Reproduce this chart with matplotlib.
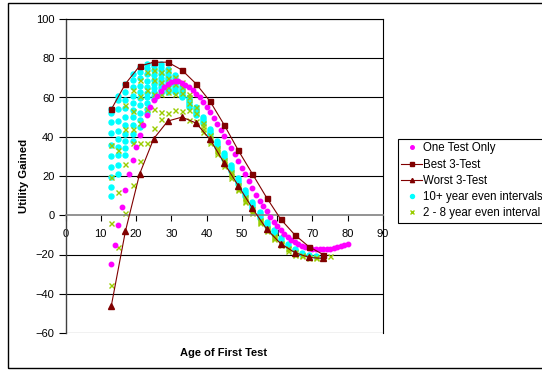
import matplotlib
matplotlib.use("Agg")
import matplotlib.pyplot as plt
from matplotlib.patches import Rectangle

plt.rcParams['font.family'] = ['Liberation Sans', 'DejaVu Sans']

# ---------------- data ----------------
one_x = list(range(13, 81))
one_y = [-25, -15, -5, 4, 13, 21, 28, 35, 41, 46, 51, 55, 58.5, 61, 63.5, 65.5,
         67, 68, 68.3, 68.2, 67.6, 66.6, 65.3, 63.7, 62, 60, 57.7, 55, 52.5, 49.5,
         46.5, 43.5, 40.5, 37.5, 34.3, 31, 27.7, 24.3, 20.8, 17.4, 14, 10.5, 7.2,
         4.5, 2, -0.8, -3.4, -5.6, -7.6, -9.4, -11, -12.4, -13.6, -14.6, -15.5,
         -16.1, -16.6, -17, -17.3, -17.4, -17.4, -17.2, -17, -16.7, -16.3, -15.8,
         -15.2, -14.4]

three_x = [13, 17, 21, 25, 29, 33, 37, 41, 45, 49, 53, 57, 61, 65, 69, 73]
best_y = [54, 67, 76, 78, 78, 74, 67, 58, 46, 33, 21, 9, -2, -10, -16, -20]
worst_y = [-46, -8, 21, 39, 48, 50, 47, 38.6, 26.5, 15, 3.5, -7, -14.5, -19, -21.5, -22]

ten_cols = {
    13: [54, 52, 47.5, 42, 36, 30, 24.5, 19.5, 14.5, 10],
    15: [61, 58.5, 54, 48, 43, 39, 35, 30.5, 25.5, 21],
    17: [67, 63, 58.5, 54.5, 50, 46, 41.5, 38, 34.5, 30.5],
    19: [72, 69, 65.5, 61, 57, 53.5, 50, 46, 41.5, 38],
    21: [75.5, 73, 70, 66, 63, 59.5, 56, 52, 48.5, 45],
    23: [77, 75, 72, 68.5, 65.5, 62.5, 60, 57, 54, 52],
    25: [77.5, 76, 74, 71.5, 69, 67, 65, 63, 61, 59],
    27: [77, 75.5, 74, 72, 70, 68.5, 67, 65.5, 64, 62.5],
    29: [74.5, 73, 71.5, 70, 69, 68, 66.5, 65, 64, 63],
    31: [71.5, 70, 68.5, 67.5, 66.5, 65.5, 64.5, 63.5, 63],
    33: [66, 65, 64, 63, 62, 61, 60.5],
    35: [60, 59, 58, 57, 56, 55],
    37: [55, 54, 53, 52, 51],
    39: [50, 49, 48, 47],
    41: [44, 43, 42, 41.5],
    43: [38, 37, 36, 35],
    45: [31.7, 30.5, 29.5, 28.5],
    47: [25.8, 24.5, 23.5, 22.5],
    49: [19.2, 18, 17, 16],
    51: [13, 12, 11, 10],
    53: [6.8, 5.5, 4.5, 3.5],
    55: [1.7, 0.5, -0.5, -1.5],
    57: [-3.4, -4.5, -5.5],
    59: [-7.5, -8.5, -9.5],
    61: [-11.5, -12.5],
    63: [-14.5, -15.5],
    65: [-17, -17.5],
    67: [-19, -19.5],
    69: [-20.5],
    71: [-21],
    73: [-21.5],
}

two_cols = {
    13: [36, 19.5, -4, -35.5],
    15: [33, 12, -16],
    17: [56, 44, 26, 1],
    19: [64, 53, 44, 37, 15.5],
    21: [69, 61, 47, 37, 27.5],
    23: [73, 64, 54, 37],
    25: [74, 69, 62, 54, 44.5],
    27: [73, 68, 62, 52.5, 49],
    29: [74, 70, 65.5, 63, 52],
    31: [70.5, 67, 62, 53.5],
    33: [68, 65.5, 62.5, 53],
    35: [62, 60, 57, 53.5, 48.5],
    37: [55, 52, 48],
    39: [47, 45.5, 44, 42.5],
    41: [41, 39.5, 38, 37],
    43: [34.5, 33, 32, 31],
    45: [28, 27, 26, 25],
    47: [22, 21, 20, 19],
    49: [15.5, 14.5, 13.5, 13],
    51: [9.5, 8.5, 7.5, 7],
    53: [3, 2, 1.5, 1],
    55: [-2.5, -3, -3.5, -4],
    57: [-6.5, -7, -7.5, -8],
    59: [-10.5, -11, -11.5, -12],
    61: [-14, -14.5, -15],
    63: [-16.5, -17, -18],
    65: [-18.5, -19.5, -20],
    67: [-20.5, -21],
    69: [-21.5, -22],
    71: [-21.5, -22],
    73: [-21.5, -22],
    75: [-21],
}

ten_x = [x for x, ys in ten_cols.items() for _ in ys]
ten_y = [y for ys in ten_cols.values() for y in ys]
two_x = [x for x, ys in two_cols.items() for _ in ys]
two_y = [y for ys in two_cols.values() for y in ys]

x_ticks = list(range(0, 91, 10))
y_ticks = list(range(-60, 101, 20))

# ---------------- figure ----------------
fig = plt.figure(figsize=(5.42, 3.70), dpi=100)
ax = fig.add_axes([65.5 / 542, 1 - 333 / 370, (383 - 65.5) / 542, (333 - 19) / 370])

for yv in y_ticks:
    if yv != 0:
        ax.axhline(yv, color='black', lw=0.8, zorder=0)

dark_red = '#800000'
ax.plot(one_x, one_y, linestyle='none', marker='o', ms=3.2, color='#FF00FF',
        mec='#FF00FF', label='One Test Only', zorder=3)
ax.plot(three_x, best_y, '-', marker='s', ms=3.6, color=dark_red, lw=0.8,
        label='Best 3-Test', zorder=4)
ax.plot(three_x, worst_y, '-', marker='^', ms=3.8, color=dark_red, lw=0.8,
        label='Worst 3-Test', zorder=4)
ax.plot(ten_x, ten_y, linestyle='none', marker='o', ms=3.6, color='#00FFFF',
        mec='#00FFFF', label='10+ year even intervals', zorder=2)
ax.plot(two_x, two_y, linestyle='none', marker='x', ms=3.6, mew=1.0,
        color='#99CC00', label='2 - 8 year even interval', zorder=2.5)

ax.set_xlim(0, 90)
ax.set_ylim(-60, 100)
ax.set_xticks(x_ticks)
ax.set_yticks(y_ticks)

ax.spines['bottom'].set_position(('data', 0))
ax.spines['bottom'].set_color('#808080')
ax.spines['bottom'].set_linewidth(1.2)
ax.spines['left'].set_color('#404040')
ax.spines['left'].set_linewidth(1.0)
ax.spines['top'].set_color('black')
ax.spines['top'].set_linewidth(0.8)
ax.spines['right'].set_color('black')
ax.spines['right'].set_linewidth(0.8)

ax.tick_params(axis='x', direction='out', length=4, width=0.8, color='black',
               labelsize=8, pad=6)
ax.tick_params(axis='y', direction='out', length=5, width=0.8, color='black',
               labelsize=8, pad=3)

ax.set_ylabel('Utility Gained', fontsize=8.2, fontweight='bold')
ax.yaxis.set_label_coords((29 - 65.5) / 317.5, 0.5)
fig.text(224 / 542, 1 - 353 / 370, 'Age of First Test', fontsize=8,
         fontweight='bold', ha='center', va='center')

leg = fig.legend(loc='upper left', bbox_to_anchor=(398 / 542, 1 - 139 / 370),
                 fontsize=8.3, frameon=True, fancybox=False, edgecolor='black',
                 framealpha=1, handlelength=1.75, handletextpad=0.15,
                 borderpad=0.3, labelspacing=0.36, borderaxespad=0,
                 markerscale=0.8)
leg.get_frame().set_linewidth(0.8)

fig.patches.append(Rectangle((8 / 542, 2 / 370), 1.2, 1 - 5 / 370,
                             transform=fig.transFigure, fill=False,
                             edgecolor='black', lw=1.0))

fig.savefig('out.png', dpi=100)
